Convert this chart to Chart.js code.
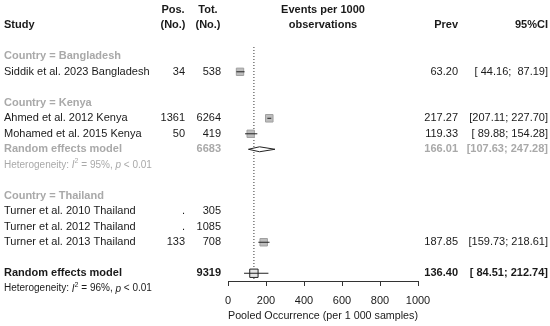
<!DOCTYPE html>
<html>
<head>
<meta charset="utf-8">
<script src="https://cdn.jsdelivr.net/npm/chart.js@4/dist/chart.umd.min.js"></script>
<style>
body{margin:0;background:#fff}
#wrap{width:550px;height:326px}
</style>
</head>
<body>
<div id="wrap"><canvas id="myChart" width="550" height="326"></canvas></div>
<script>
// study level data
var studies = ['Siddik et al. 2023 Bangladesh', 'Ahmed et al. 2012 Kenya', 'Mohamed et al. 2015 Kenya',
               'Turner et al. 2010 Thailand', 'Turner et al. 2012 Thailand', 'Turner et al. 2013 Thailand'];
var country = ['Bangladesh', 'Kenya', 'Kenya', 'Thailand', 'Thailand', 'Thailand'];
var posCases = ['34', '1361', '50', '.', '.', '133'];
var totCases = [538, 6264, 419, 305, 1085, 708];
var prev = [63.20, 217.27, 119.33, null, null, 187.85];
var ciLow = [44.16, 207.11, 89.88, null, null, 159.73];
var ciHigh = [87.19, 227.70, 154.28, null, null, 218.61];
var weights = [24.6, 25.6, 24.5, null, null, 25.3];

var countries = ['Bangladesh', 'Kenya', 'Thailand'];

// subgroup random effects (only Kenya gets one)
var subCountry = ['Kenya'];
var subTot = [6683];
var subPrev = [166.01];
var subLow = [107.63];
var subHigh = [247.28];
var subI2 = [95];
var subP = ['< 0.01'];

// overall
var overallTot = 9319;
var overallPrev = 136.40;
var overallLow = 84.51;
var overallHigh = 212.74;
var overallI2 = 96;
var overallP = '< 0.01';

var xTicks = [0, 200, 400, 600, 800, 1000];

// ---- row layout ----
var rows = [];
var studyRow = [];
var subRow = [];
var r = 2;
countries.forEach(function (c) {
    rows.push({kind: 'group', text: 'Country = ' + c, row: r++});
    studies.forEach(function (s, i) {
        if (country[i] === c) { studyRow[i] = r; rows.push({kind: 'study', i: i, row: r++}); }
    });
    var k = subCountry.indexOf(c);
    if (k >= 0) {
        subRow[k] = r;
        rows.push({kind: 'sub', k: k, row: r++});
        rows.push({kind: 'het', i2: subI2[k], p: subP[k], gray: true, row: r++});
    }
    r++;
});
var overallRow = r;
rows.push({kind: 'overall', row: overallRow});
rows.push({kind: 'het', i2: overallI2, p: overallP, gray: false, row: overallRow + 1});

var BLACK = '#1a1a1a', GRAY = '#a9a9a9';

function ciText(lo, hi) {
    return '[' + lo.toFixed(2).padStart(6, ' ') + '; ' + hi.toFixed(2).padStart(6, ' ') + ']';
}
function font(size, bold, italic) {
    return (italic ? 'italic ' : '') + (bold ? 'bold ' : '') + size + 'px "Liberation Sans", Arial, sans-serif';
}

// ---- datasets ----
var datasets = [];
studies.forEach(function (s, i) {
    if (prev[i] == null) return;
    datasets.push({
        type: 'scatter', showLine: true,
        data: [{x: ciLow[i], y: studyRow[i]}, {x: ciHigh[i], y: studyRow[i]}],
        borderColor: '#222', borderWidth: 1, pointRadius: 0
    });
});
var sq = [], sqR = [];
studies.forEach(function (s, i) {
    if (prev[i] == null) return;
    sq.push({x: prev[i], y: studyRow[i]});
    sqR.push(Math.sqrt(weights[i]) * 1.05);
});
datasets.push({
    type: 'scatter', data: sq, pointStyle: 'rect', pointRadius: sqR,
    backgroundColor: '#bdbdbd', borderColor: '#a0a0a0', borderWidth: 1
});
subCountry.forEach(function (c, k) {
    var y0 = subRow[k];
    datasets.push({
        type: 'scatter', showLine: true, fill: 'shape',
        data: [{x: subLow[k], y: y0}, {x: subPrev[k], y: y0 - 0.16}, {x: subHigh[k], y: y0},
               {x: subPrev[k], y: y0 + 0.16}, {x: subLow[k], y: y0}],
        borderColor: '#222', backgroundColor: '#ffffff', borderWidth: 1, pointRadius: 0, tension: 0
    });
});
datasets.push({
    type: 'scatter', showLine: true,
    data: [{x: overallLow, y: overallRow}, {x: overallHigh, y: overallRow}],
    borderColor: '#222', borderWidth: 1, pointRadius: 0
});
datasets.push({
    type: 'scatter', data: [{x: overallPrev, y: overallRow}], pointStyle: 'rect', pointRadius: 5.9,
    backgroundColor: '#e4e4e4', borderColor: '#222', borderWidth: 1
});
datasets.push({
    type: 'scatter', showLine: true,
    data: [{x: overallPrev, y: 1.4}, {x: overallPrev, y: overallRow + 0.5}],
    borderColor: '#333', borderWidth: 1, borderDash: [1, 2], pointRadius: 0
});

// ---- table text ----
var tablePlugin = {
    id: 'table',
    afterDraw: function (chart) {
        var ctx = chart.ctx, ys = chart.scales.y, xs = chart.scales.x;
        var COL_STUDY = 4, COL_POS = 185, COL_TOT = 221, COL_PREV = 458, COL_CI = 548;
        function Y(row) { return ys.getPixelForValue(row); }
        function txt(s, x, row, align, f, color) {
            ctx.font = f; ctx.fillStyle = color; ctx.textAlign = align; ctx.textBaseline = 'middle';
            ctx.fillText(s, x, Y(row));
        }
        ctx.save();
        var hb = font(11, true);
        txt('Study', COL_STUDY, 0, 'left', hb, BLACK);
        txt('Pos.', 173, -1, 'center', hb, BLACK);
        txt('(No.)', 173, 0, 'center', hb, BLACK);
        txt('Tot.', 208, -1, 'center', hb, BLACK);
        txt('(No.)', 208, 0, 'center', hb, BLACK);
        var mid = (xs.left + xs.right) / 2;
        txt('Events per 1000', mid, -1, 'center', hb, BLACK);
        txt('observations', mid, 0, 'center', hb, BLACK);
        txt('Prev', COL_PREV, 0, 'right', hb, BLACK);
        txt('95%CI', COL_CI, 0, 'right', hb, BLACK);

        var fn = font(11, false), fb = font(11, true);
        rows.forEach(function (rw) {
            if (rw.kind === 'group') {
                txt(rw.text, COL_STUDY, rw.row, 'left', fb, GRAY);
            } else if (rw.kind === 'study') {
                var i = rw.i;
                txt(studies[i], COL_STUDY, rw.row, 'left', fn, BLACK);
                txt(posCases[i], COL_POS, rw.row, 'right', fn, BLACK);
                txt(String(totCases[i]), COL_TOT, rw.row, 'right', fn, BLACK);
                if (prev[i] != null) {
                    txt(prev[i].toFixed(2), COL_PREV, rw.row, 'right', fn, BLACK);
                    txt(ciText(ciLow[i], ciHigh[i]), COL_CI, rw.row, 'right', fn, BLACK);
                }
            } else if (rw.kind === 'sub') {
                var k = rw.k;
                txt('Random effects model', COL_STUDY, rw.row, 'left', fb, GRAY);
                txt(String(subTot[k]), COL_TOT, rw.row, 'right', fb, GRAY);
                txt(subPrev[k].toFixed(2), COL_PREV, rw.row, 'right', fb, GRAY);
                txt(ciText(subLow[k], subHigh[k]), COL_CI, rw.row, 'right', fb, GRAY);
            } else if (rw.kind === 'overall') {
                txt('Random effects model', COL_STUDY, rw.row, 'left', fb, BLACK);
                txt(String(overallTot), COL_TOT, rw.row, 'right', fb, BLACK);
                txt(overallPrev.toFixed(2), COL_PREV, rw.row, 'right', fb, BLACK);
                txt(ciText(overallLow, overallHigh), COL_CI, rw.row, 'right', fb, BLACK);
            } else if (rw.kind === 'het') {
                var col = rw.gray ? GRAY : BLACK;
                var runs = [['Heterogeneity: ', font(10)], ['I', font(10, false, true)], ['2', font(7), -3.5],
                            [' = ' + rw.i2 + '%, ', font(10)], ['p', font(10, false, true)], [' ' + rw.p, font(10)]];
                var xx = COL_STUDY, yy = Y(rw.row);
                ctx.fillStyle = col; ctx.textAlign = 'left'; ctx.textBaseline = 'middle';
                runs.forEach(function (rn) {
                    ctx.font = rn[1];
                    ctx.fillText(rn[0], xx, yy + (rn[2] || 0));
                    xx += ctx.measureText(rn[0]).width;
                });
            }
        });
        ctx.restore();
    }
};

var element = document.getElementById('myChart').getContext('2d');
var chart = new Chart(element, {
    type: 'scatter',
    data: {datasets: datasets},
    options: {
        responsive: false,
        animation: false,
        layout: {padding: {top: 47, left: 228, right: 132, bottom: 2}},
        plugins: {legend: {display: false}, tooltip: {enabled: false}},
        scales: {
            x: {
                type: 'linear', position: 'bottom', min: 0, max: 1000,
                afterBuildTicks: function (s) { s.ticks = xTicks.map(function (v) { return {value: v}; }); },
                afterFit: function (s) { s.height = 43; },
                grid: {drawOnChartArea: false, drawTicks: true, tickLength: 5, color: '#333'},
                border: {display: true, color: '#333'},
                ticks: {color: '#1a1a1a', font: {size: 11, family: '"Liberation Sans", Arial, sans-serif'}, padding: 8, maxRotation: 0,
                        callback: function (v) { return String(v); }},
                title: {display: true, text: 'Pooled Occurrence (per 1 000 samples)', color: '#1a1a1a',
                        font: {size: 11, family: '"Liberation Sans", Arial, sans-serif'}, padding: {top: 4, bottom: 1}}
            },
            y: {type: 'linear', min: 1.4, max: overallRow + 0.5, reverse: true, display: false}
        }
    },
    plugins: [tablePlugin]
});
</script>
</body>
</html>
